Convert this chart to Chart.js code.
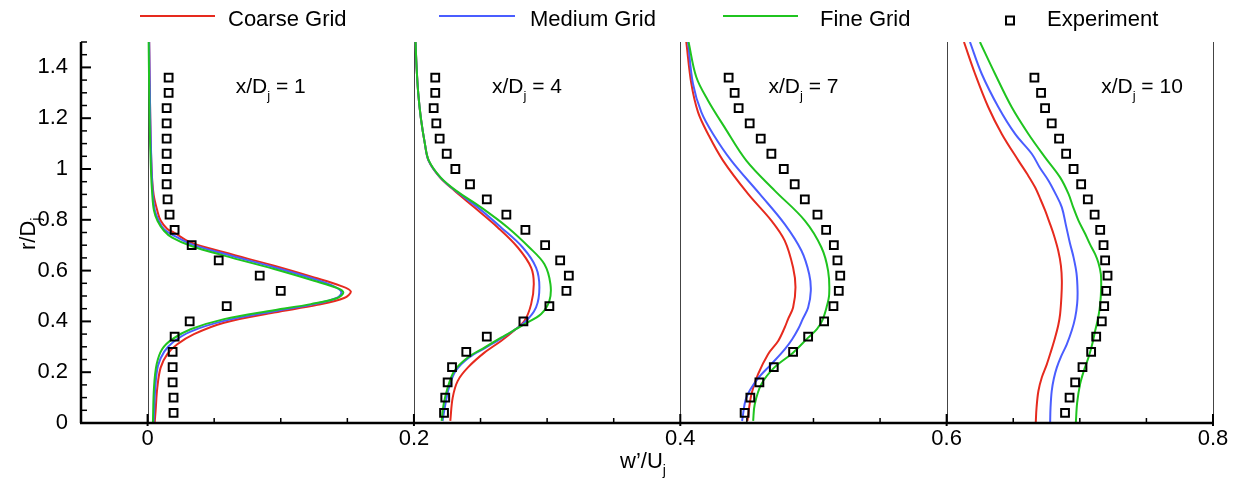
<!DOCTYPE html>
<html>
<head>
<meta charset="utf-8">
<script src="https://cdn.jsdelivr.net/npm/chart.js@4.4.0/dist/chart.umd.min.js"></script>
<style>
  html, body { margin: 0; padding: 0; background: #fff; }
</style>
</head>
<body>
<canvas id="chart" width="1241" height="491"></canvas>
<script>
// === w'/Uj 반경 방향 분포 (x/Dj = 1, 4, 7, 10) ===

// 축 눈금
const xTickValues = [0, 0.2, 0.4, 0.6, 0.8];
const xTickLabels = ['0', '0.2', '0.4', '0.6', '0.8'];
const yTickValues = [0, 0.2, 0.4, 0.6, 0.8, 1.0, 1.2, 1.4];
const yTickLabels = ['0', '0.2', '0.4', '0.6', '0.8', '1', '1.2', '1.4'];

// 각 단면의 기준선 (가로축 위치)
const baselines = [0, 0.2, 0.4, 0.6, 0.8];
const stations = ['1', '4', '7', '10'];

// 실험값: 공통 r/Dj 위치
const expR = [0.04, 0.10, 0.16, 0.22, 0.28, 0.34, 0.40, 0.46, 0.52, 0.58, 0.64, 0.70,
              0.76, 0.82, 0.88, 0.94, 1.00, 1.06, 1.12, 1.18, 1.24, 1.30, 1.36];
const exp1 = [0.0195, 0.0195, 0.0188, 0.0188, 0.0188, 0.0203, 0.0316, 0.0594, 0.1000, 0.0842, 0.0534, 0.0331,
              0.0203, 0.0165, 0.0150, 0.0143, 0.0143, 0.0143, 0.0143, 0.0143, 0.0143, 0.0158, 0.0158];
const exp2 = [0.2226, 0.2235, 0.2253, 0.2286, 0.2393, 0.2547, 0.2822, 0.3017, 0.3145, 0.3163, 0.3098, 0.2985,
              0.2837, 0.2694, 0.2547, 0.2421, 0.2311, 0.2246, 0.2193, 0.2168, 0.2148, 0.2160, 0.2160];
const exp3 = [0.4483, 0.4526, 0.4594, 0.4702, 0.4847, 0.4960, 0.5080, 0.5150, 0.5190, 0.5201, 0.5180, 0.5153,
              0.5095, 0.5030, 0.4935, 0.4859, 0.4777, 0.4684, 0.4604, 0.4521, 0.4438, 0.4408, 0.4363];
const exp4 = [0.6889, 0.6923, 0.6965, 0.7020, 0.7085, 0.7123, 0.7165, 0.7183, 0.7198, 0.7208, 0.7190, 0.7178,
              0.7153, 0.7111, 0.7060, 0.7010, 0.6953, 0.6897, 0.6844, 0.6789, 0.6739, 0.6709, 0.6659];

// 계산값 [x, r/Dj]  (x = 기준선 + w'/Uj)
const coarse1 = [[0.0053, 0], [0.0060, 0.047], [0.0073, 0.139], [0.0098, 0.218], [0.0148, 0.271], [0.0223, 0.310],
                 [0.0348, 0.350], [0.0574, 0.395], [0.0950, 0.435], [0.1276, 0.465], [0.1476, 0.492], [0.1526, 0.518],
                 [0.1450, 0.540], [0.1250, 0.573], [0.0950, 0.619], [0.0574, 0.672], [0.0323, 0.711], [0.0198, 0.750],
                 [0.0148, 0.764], [0.0098, 0.797], [0.0073, 0.836], [0.0045, 0.90], [0.0030, 1.0], [0.0020, 1.2], [0.0012, 1.5]];
const medium1 = [[0.0045, 0], [0.0058, 0.139], [0.0078, 0.225], [0.0125, 0.281], [0.0195, 0.320], [0.0323, 0.360],
                 [0.0574, 0.402], [0.0950, 0.440], [0.1240, 0.467], [0.1420, 0.492], [0.1455, 0.516], [0.1400, 0.538],
                 [0.1250, 0.567], [0.0950, 0.613], [0.0574, 0.666], [0.0323, 0.705], [0.0180, 0.743], [0.0125, 0.762],
                 [0.0085, 0.795], [0.0055, 0.836], [0.0040, 0.90], [0.0030, 1.0], [0.0020, 1.2], [0.0012, 1.5]];
const fine1 = [[0.0040, 0], [0.0048, 0.139], [0.0068, 0.231], [0.0110, 0.291], [0.0186, 0.330], [0.0323, 0.369],
               [0.0574, 0.409], [0.0950, 0.444], [0.1226, 0.468], [0.1426, 0.492], [0.1470, 0.514], [0.1426, 0.531],
               [0.1250, 0.560], [0.0950, 0.606], [0.0574, 0.659], [0.0323, 0.698], [0.0185, 0.730], [0.0123, 0.757],
               [0.0075, 0.795], [0.0048, 0.836], [0.0035, 0.90], [0.0025, 1.0], [0.0015, 1.2], [0.0008, 1.5]];

const coarse2 = [[0.2273, 0.008], [0.2291, 0.100], [0.2329, 0.166], [0.2404, 0.218], [0.2529, 0.277], [0.2654, 0.323],
                 [0.2755, 0.365], [0.2830, 0.402], [0.2880, 0.468], [0.2900, 0.547], [0.2880, 0.612], [0.2780, 0.691],
                 [0.2629, 0.770], [0.2453, 0.849], [0.2303, 0.915], [0.2195, 0.967], [0.2110, 1.033], [0.2082, 1.1],
                 [0.2052, 1.2], [0.2032, 1.3], [0.2020, 1.4], [0.2012, 1.5]];
const medium2 = [[0.2215, 0.008], [0.2236, 0.074], [0.2263, 0.139], [0.2313, 0.205], [0.2414, 0.258], [0.2539, 0.297],
                 [0.2664, 0.336], [0.2830, 0.396], [0.2917, 0.455], [0.2942, 0.534], [0.2917, 0.612], [0.2817, 0.691],
                 [0.2654, 0.770], [0.2479, 0.849], [0.2310, 0.915], [0.2197, 0.967], [0.2110, 1.033], [0.2082, 1.1],
                 [0.2052, 1.2], [0.2032, 1.3], [0.2020, 1.4], [0.2012, 1.5]];
const fine2 = [[0.2208, 0.008], [0.2223, 0.074], [0.2253, 0.139], [0.2303, 0.205], [0.2404, 0.258], [0.2529, 0.297],
               [0.2654, 0.336], [0.2830, 0.389], [0.2955, 0.429], [0.3017, 0.481], [0.3025, 0.547], [0.2980, 0.625],
               [0.2867, 0.691], [0.2704, 0.770], [0.2504, 0.849], [0.2316, 0.915], [0.2200, 0.967], [0.2112, 1.033],
               [0.2082, 1.1], [0.2052, 1.2], [0.2032, 1.3], [0.2020, 1.4], [0.2012, 1.5]];

const coarse3 = [[0.4504, 0.008], [0.4534, 0.113], [0.4584, 0.192], [0.4659, 0.271], [0.4735, 0.323], [0.4784, 0.376],
                 [0.4810, 0.410], [0.4847, 0.455], [0.4865, 0.534], [0.4847, 0.612], [0.4784, 0.718], [0.4684, 0.797],
                 [0.4509, 0.902], [0.4321, 1.033], [0.4208, 1.138], [0.4133, 1.224], [0.4083, 1.336], [0.4045, 1.5]];
const medium3 = [[0.4464, 0.008], [0.4496, 0.100], [0.4575, 0.170], [0.4684, 0.232], [0.4784, 0.290], [0.4840, 0.330],
                 [0.4885, 0.370], [0.4920, 0.410], [0.4960, 0.455], [0.4980, 0.521], [0.4968, 0.586], [0.4910, 0.678],
                 [0.4784, 0.783], [0.4596, 0.902], [0.4383, 1.033], [0.4246, 1.138], [0.4158, 1.224], [0.4095, 1.336], [0.4058, 1.5]];
const fine3 = [[0.4547, 0.008], [0.4559, 0.074], [0.4609, 0.153], [0.4705, 0.218], [0.4847, 0.277], [0.4960, 0.336],
               [0.5026, 0.370], [0.5065, 0.402], [0.5098, 0.455], [0.5118, 0.507], [0.5110, 0.599], [0.5060, 0.691],
               [0.4935, 0.797], [0.4709, 0.915], [0.4496, 1.033], [0.4333, 1.164], [0.4208, 1.270], [0.4120, 1.362], [0.4062, 1.5]];

const coarse4 = [[0.6669, 0], [0.6675, 0.06], [0.6689, 0.126], [0.6715, 0.18], [0.6752, 0.231], [0.6785, 0.285],
                 [0.6814, 0.336], [0.6838, 0.385], [0.6852, 0.429], [0.6862, 0.50], [0.6865, 0.56], [0.6858, 0.62],
                 [0.6838, 0.678], [0.6805, 0.74], [0.6772, 0.79], [0.6740, 0.836], [0.6705, 0.88], [0.6664, 0.928],
                 [0.6605, 0.98], [0.6539, 1.033], [0.6414, 1.138], [0.6313, 1.243], [0.6213, 1.375], [0.6130, 1.5]];
const medium4 = [[0.6777, 0], [0.6780, 0.06], [0.6789, 0.126], [0.6805, 0.175], [0.6827, 0.218], [0.6862, 0.265],
                 [0.6902, 0.310], [0.6940, 0.365], [0.6965, 0.415], [0.6980, 0.47], [0.6983, 0.521], [0.6975, 0.59],
                 [0.6953, 0.652], [0.6925, 0.71], [0.6895, 0.78], [0.6865, 0.849], [0.6820, 0.90], [0.6765, 0.954],
                 [0.6700, 1.005], [0.6639, 1.060], [0.6514, 1.138], [0.6389, 1.243], [0.6263, 1.375], [0.6175, 1.5]];
const fine4 = [[0.6970, 0], [0.6980, 0.08], [0.7002, 0.153], [0.7030, 0.205], [0.7065, 0.258], [0.7093, 0.31],
               [0.7115, 0.363], [0.7138, 0.415], [0.7153, 0.468], [0.7160, 0.53], [0.7158, 0.586], [0.7140, 0.63],
               [0.7115, 0.665], [0.7075, 0.705], [0.7040, 0.745], [0.6990, 0.797], [0.6950, 0.85], [0.6915, 0.902],
               [0.6852, 0.967], [0.6739, 1.046], [0.6614, 1.138], [0.6489, 1.243], [0.6363, 1.375], [0.6250, 1.5]];

// 스타일
const FONT = "'Liberation Sans', Arial, Helvetica, sans-serif";
const RED = '#e62a1e';
const BLUE = '#4a5dff';
const GREEN = '#1fc41f';

// 레이아웃 (값 좌표)
const labelX = [0.0662, 0.2586, 0.4662, 0.7160];   // 단면 라벨 시작 위치
const labelY = 1.30;

const profiles = [
    { coarse: coarse1, medium: medium1, fine: fine1, exp: exp1 },
    { coarse: coarse2, medium: medium2, fine: fine2, exp: exp2 },
    { coarse: coarse3, medium: medium3, fine: fine3, exp: exp3 },
    { coarse: coarse4, medium: medium4, fine: fine4, exp: exp4 }
];

const toXY = arr => arr.map(([x, y]) => ({ x, y }));
const lineSet = (label, pts, color) => ({
    label, data: toXY(pts), showLine: true, borderColor: color, borderWidth: 2,
    pointRadius: 0, tension: 0.35, fill: false
});

// 그리는 순서: 배열 앞쪽이 위에 그려짐
const datasets = [];
profiles.forEach(p => {
    datasets.push({
        label: 'Experiment',
        data: expR.map((r, k) => ({ x: p.exp[k], y: r })),
        showLine: false, pointStyle: 'rect', pointRadius: 5.5,
        pointBorderWidth: 2, pointBorderColor: '#000', pointBackgroundColor: 'rgba(0,0,0,0)'
    });
});
profiles.forEach(p => datasets.push(lineSet('Fine Grid', p.fine, GREEN)));
profiles.forEach(p => datasets.push(lineSet('Medium Grid', p.medium, BLUE)));
profiles.forEach(p => datasets.push(lineSet('Coarse Grid', p.coarse, RED)));

// 텍스트 + 아래첨자
function drawRich(ctx, x, y, parts) {
    parts.forEach(p => {
        ctx.font = p.size + 'px ' + FONT;
        ctx.fillText(p.t, x, y + (p.dy || 0));
        x += ctx.measureText(p.t).width;
    });
}

const decor = {
    id: 'decor',
    beforeDatasetsDraw(chart) {
        const { ctx, scales: { x, y } } = chart;
        ctx.save();
        ctx.strokeStyle = '#444';
        ctx.lineWidth = 1;
        baselines.forEach(b => {
            const px = Math.round(x.getPixelForValue(b)) + 0.5;
            ctx.beginPath();
            ctx.moveTo(px, y.getPixelForValue(0));
            ctx.lineTo(px, y.getPixelForValue(1.5));
            ctx.stroke();
        });
        ctx.restore();
    },
    afterDatasetsDraw(chart) {
        const { ctx, scales: { x, y } } = chart;
        const left = x.getPixelForValue(-0.05), right = x.getPixelForValue(0.8);
        const top = y.getPixelForValue(1.5), bottom = y.getPixelForValue(0);
        ctx.save();
        ctx.strokeStyle = '#000';

        // 눈금 (안쪽 방향)
        for (let i = 0; i <= 30; i++) {
            const v = i * 0.05;
            const major = i % 4 === 0 && v < 1.45;
            const py = y.getPixelForValue(v);
            ctx.lineWidth = major ? 2 : 1.5;
            ctx.beginPath();
            ctx.moveTo(left, py);
            ctx.lineTo(left + (major ? 10 : 6), py);
            ctx.stroke();
        }
        for (let i = 0; i <= 16; i++) {
            const v = i * 0.05;
            const major = i % 4 === 0;
            const px = x.getPixelForValue(v);
            ctx.lineWidth = major ? 2 : 1.5;
            ctx.beginPath();
            ctx.moveTo(px, bottom + (major ? 3 : 0));
            ctx.lineTo(px, bottom - (major ? 9 : 5));
            ctx.stroke();
        }

        // 축선
        ctx.lineWidth = 2.5;
        ctx.beginPath();
        ctx.moveTo(left, top);
        ctx.lineTo(left, bottom);
        ctx.moveTo(left - 1, bottom);
        ctx.lineTo(right + 1, bottom);
        ctx.stroke();
        ctx.restore();
    },
    afterDraw(chart) {
        const { ctx, scales: { x, y } } = chart;
        ctx.save();
        ctx.fillStyle = '#000';
        ctx.textBaseline = 'alphabetic';
        ctx.textAlign = 'left';

        // 범례
        const legendItems = [
            { text: 'Coarse Grid', color: RED, x0: 140, x1: 215, tx: 228 },
            { text: 'Medium Grid', color: BLUE, x0: 439, x1: 515, tx: 530 },
            { text: 'Fine Grid', color: GREEN, x0: 723, x1: 798, tx: 820 }
        ];
        ctx.lineWidth = 2;
        legendItems.forEach(it => {
            ctx.strokeStyle = it.color;
            ctx.beginPath();
            ctx.moveTo(it.x0, 16);
            ctx.lineTo(it.x1, 16);
            ctx.stroke();
            ctx.font = '22px ' + FONT;
            ctx.fillText(it.text, it.tx, 25.5);
        });
        ctx.strokeStyle = '#000';
        ctx.strokeRect(1006, 16.5, 8, 8);
        ctx.font = '22px ' + FONT;
        ctx.fillText('Experiment', 1047, 25.5);

        // 단면 라벨
        stations.forEach((s, i) => {
            drawRich(ctx, x.getPixelForValue(labelX[i]), y.getPixelForValue(labelY), [
                { t: 'x/D', size: 21 },
                { t: 'j', size: 13, dy: 7 },
                { t: ' = ' + s, size: 21 }
            ]);
        });

        // 축 제목
        drawRich(ctx, 620, 468, [
            { t: 'w\u2019/U', size: 22 },
            { t: 'j', size: 14, dy: 7 }
        ]);
        ctx.save();
        ctx.translate(35, 250);
        ctx.rotate(-Math.PI / 2);
        drawRich(ctx, 0, 0, [
            { t: 'r/D', size: 22 },
            { t: 'j', size: 14, dy: 6 }
        ]);
        ctx.restore();
        ctx.restore();
    }
};

new Chart(document.getElementById('chart'), {
    type: 'scatter',
    data: { datasets },
    options: {
        responsive: false,
        animation: false,
        events: [],
        layout: { padding: { top: 42, right: 28, left: 0, bottom: 0 } },
        plugins: {
            legend: { display: false },
            tooltip: { enabled: false }
        },
        scales: {
            x: {
                type: 'linear', min: -0.05, max: 0.8,
                afterBuildTicks: s => { s.ticks = xTickValues.map(v => ({ value: v })); },
                afterFit: s => { s.height = 68; },
                ticks: {
                    callback: (v, i) => xTickLabels[i],
                    autoSkip: false, maxRotation: 0, padding: 3,
                    color: '#000', font: { family: FONT, size: 22 }
                },
                grid: { display: false, drawTicks: false },
                border: { display: false }
            },
            y: {
                type: 'linear', min: 0, max: 1.5,
                afterBuildTicks: s => { s.ticks = yTickValues.map(v => ({ value: v })); },
                afterFit: s => { s.width = 81; },
                ticks: {
                    callback: (v, i) => yTickLabels[i],
                    autoSkip: false, padding: 13,
                    color: '#000', font: { family: FONT, size: 22 }
                },
                grid: { display: false, drawTicks: false },
                border: { display: false }
            }
        }
    },
    plugins: [decor]
});
</script>
</body>
</html>
